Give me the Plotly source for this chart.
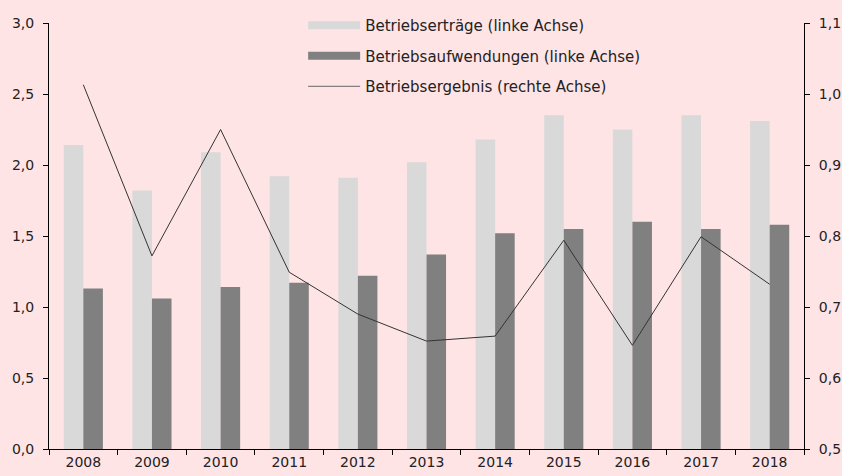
import plotly.graph_objects as go

years = ["2008", "2009", "2010", "2011", "2012", "2013", "2014", "2015", "2016", "2017", "2018"]
ertraege = [2.14, 1.82, 2.09, 1.92, 1.91, 2.02, 2.18, 2.35, 2.25, 2.35, 2.31]
aufwendungen = [1.13, 1.06, 1.14, 1.17, 1.22, 1.37, 1.52, 1.55, 1.60, 1.55, 1.58]
ergebnis = [1.013, 0.772, 0.950, 0.749, 0.690, 0.652, 0.659, 0.794, 0.646, 0.799, 0.732]

names = ["Betriebserträge (linke Achse)", "Betriebsaufwendungen (linke Achse)", "Betriebsergebnis (rechte Achse)"]
light = "#D9D9D9"
dark = "#808080"
linec = "#333333"
bg = "#FFE4E6"
font = "DejaVu Sans"

fig = go.Figure()
fig.add_trace(go.Bar(x=years, y=ertraege, marker=dict(color=light, line=dict(width=0)), showlegend=False))
fig.add_trace(go.Bar(x=years, y=aufwendungen, marker=dict(color=dark, line=dict(width=0)), showlegend=False))
fig.add_trace(go.Scatter(x=years, y=ergebnis, yaxis="y2", mode="lines",
                         line=dict(color=linec, width=1), showlegend=False))

# legend entries
fig.add_trace(go.Scatter(x=[None], y=[None], mode="lines", line=dict(color=light, width=8), name=names[0], legendgroup="a"))
fig.add_trace(go.Scatter(x=[None], y=[None], mode="lines", line=dict(color=dark, width=8), name=names[1], legendgroup="b"))
fig.add_trace(go.Scatter(x=[None], y=[None], mode="lines", line=dict(color="#666666", width=1), name=names[2], legendgroup="c"))

fig.update_layout(
    width=842, height=476,
    margin=dict(l=49, r=38, t=23, b=27, autoexpand=False),
    paper_bgcolor=bg, plot_bgcolor=bg,
    separators=",.",
    font=dict(family=font, size=14, color="#222222"),
    barmode="group", bargap=0.43, bargroupgap=0,
    legend=dict(x=0.3366, xref="paper", y=0.981, yref="container", xanchor="left", yanchor="top",
                bgcolor="rgba(0,0,0,0)",
                traceorder="grouped", tracegroupgap=8, itemwidth=52,
                font=dict(family=font, size=15, color="#222222")),
    xaxis=dict(type="category", tickson="boundaries", ticks="outside", ticklen=5, tickcolor="#000",
               showline=True, linecolor="#000", linewidth=1, showgrid=False, zeroline=False,
               range=[-0.5, 10.5], tickfont=dict(size=14), automargin=False),
    xaxis2=dict(overlaying="x", range=[-0.5, 10.5], ticks="inside",
                ticklen=4, tickcolor="#000", showticklabels=False, showgrid=False, zeroline=False,
                side="bottom", showline=False, tick0=-0.5, dtick=1, tickmode="linear", automargin=False),
    yaxis=dict(range=[0, 3.0], dtick=0.5, tickformat=".1f", ticks="outside", ticklen=5, tickcolor="#000",
               showline=True, linecolor="#000", linewidth=1, showgrid=False, zeroline=False,
               ticklabelstandoff=6, automargin=False),
    yaxis2=dict(overlaying="y", side="right", range=[0.5, 1.1], dtick=0.1, tickformat=".1f",
                ticks="outside", ticklen=5, tickcolor="#000", showline=True, linecolor="#000",
                linewidth=1, showgrid=False, zeroline=False, ticklabelstandoff=6, automargin=False),
    yaxis3=dict(overlaying="y", range=[0, 3.0], dtick=0.5, ticks="inside", ticklen=4, tickcolor="#000",
                showticklabels=False, showgrid=False, zeroline=False, showline=False, automargin=False),
    yaxis4=dict(overlaying="y", side="right", range=[0.5, 1.1], dtick=0.1, ticks="inside", ticklen=4,
                tickcolor="#000", showticklabels=False, showgrid=False, zeroline=False, showline=False,
                automargin=False),
)

fig.write_html("out.html", config={"displayModeBar": False},
               post_script="document.body.style.margin='0px';document.body.style.background='%s';" % bg)
